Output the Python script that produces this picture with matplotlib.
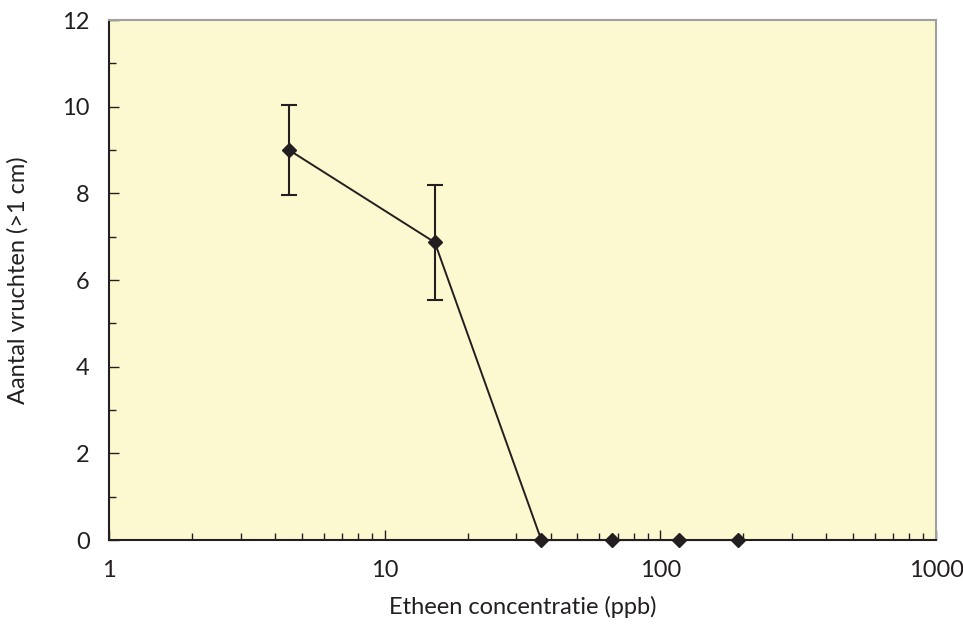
import matplotlib
matplotlib.use('Agg')
import matplotlib.pyplot as plt
from matplotlib.ticker import FixedLocator, LogLocator, NullFormatter

plt.rcParams['font.family'] = ['Lato', 'DejaVu Sans']

# data
conc = [4.5, 15.2, 37, 67, 117, 191]
vruchten = [9.0, 6.87, 0, 0, 0, 0]
fout = [1.04, 1.32, 0, 0, 0, 0]

fig = plt.figure(figsize=(9.63, 6.28), dpi=100)
ax = fig.add_axes([0.1132, 0.140, 0.8588, 0.828])
ax.set_facecolor('#fcf8d0')

# only draw error bars where they exist
eb_x = [c for c, e in zip(conc, fout) if e > 0]
eb_y = [v for v, e in zip(vruchten, fout) if e > 0]
eb_e = [e for e in fout if e > 0]
ax.errorbar(eb_x, eb_y, yerr=eb_e, fmt='none', ecolor='#231f20',
            elinewidth=1.5, capsize=6, capthick=1.5, zorder=2)
ax.plot(conc, vruchten, color='#231f20', linewidth=1.4, marker='D',
        markersize=7, zorder=3, clip_on=False)

ax.set_xscale('log')
ax.set_xlim(1, 1000)
ax.set_ylim(0, 12)
ax.set_xticks([1, 10, 100, 1000])
ax.set_xticklabels(['1', '10', '100', '1000'])
ax.xaxis.set_minor_locator(LogLocator(base=10, subs=range(2, 10)))
ax.xaxis.set_minor_formatter(NullFormatter())
ax.set_yticks(range(0, 13, 2))
ax.yaxis.set_minor_locator(FixedLocator(range(1, 12, 2)))

ax.tick_params(which='both', direction='in', color='#231f20', labelsize=17,
               labelcolor='#231f20')
ax.tick_params(which='major', length=7, width=1)
ax.tick_params(which='minor', length=5, width=1)
ax.tick_params(axis='x', pad=14)
ax.tick_params(axis='y', pad=14)

for s in ['left', 'bottom']:
    ax.spines[s].set_color('#231f20')
    ax.spines[s].set_linewidth(1.5)
for s in ['top', 'right']:
    ax.spines[s].set_color('#a0a0a0')
    ax.spines[s].set_linewidth(1.5)

ax.set_xlabel('Etheen concentratie (ppb)', fontsize=17, color='#231f20', labelpad=11)
ax.set_ylabel('Aantal vruchten (>1 cm)', fontsize=17, color='#231f20', labelpad=24)

fig.savefig('out.png', dpi=100)
